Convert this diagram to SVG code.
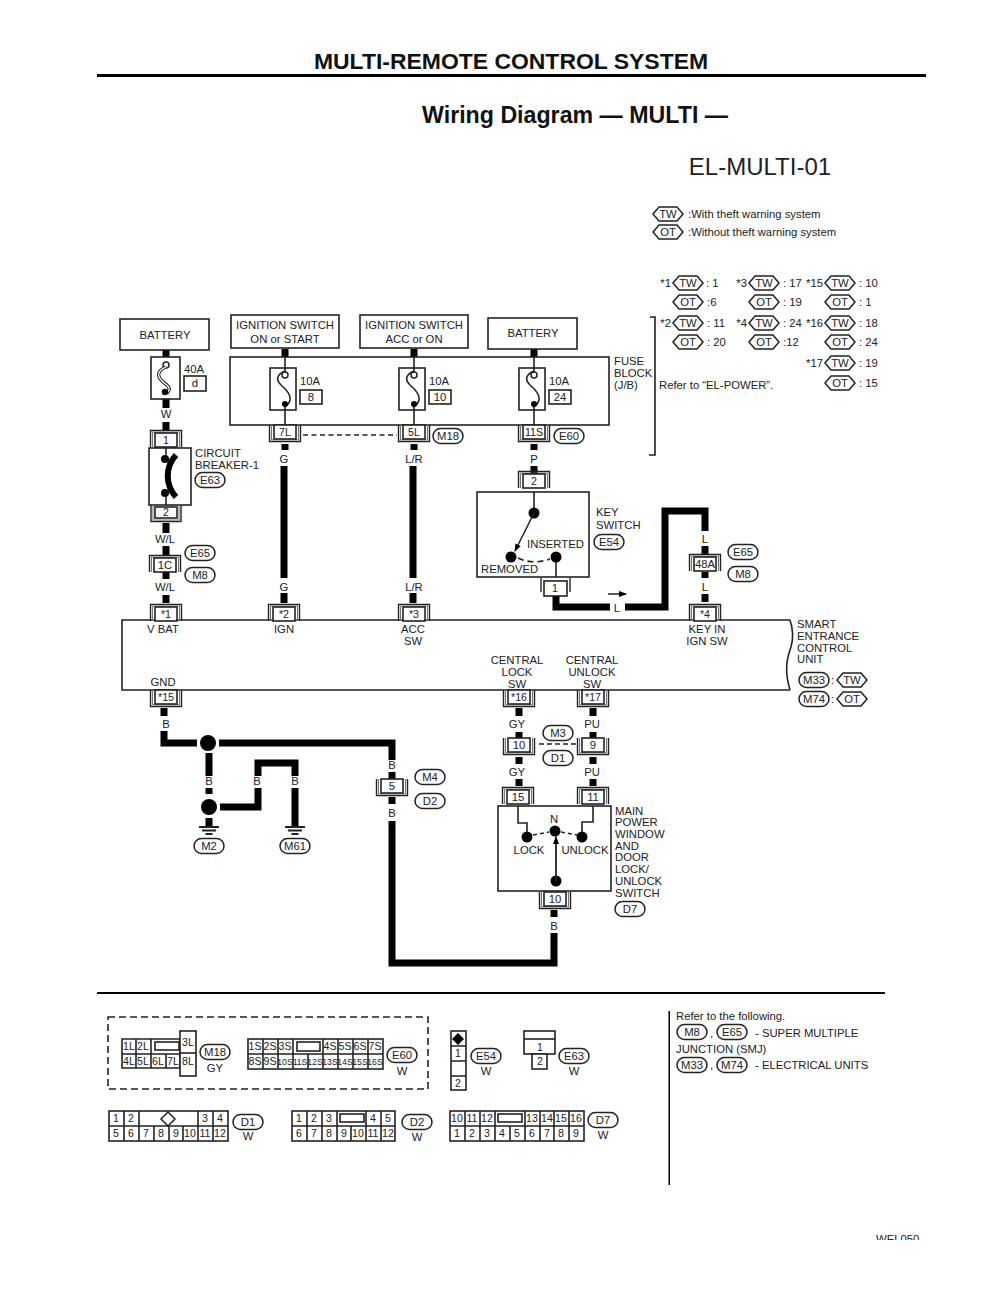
<svg xmlns="http://www.w3.org/2000/svg" width="1000" height="1294" viewBox="0 0 1000 1294">
<style>
text{font-family:"Liberation Sans",Arial,sans-serif;font-size:11.3px;fill:#222}
.m{text-anchor:middle}
.e{text-anchor:end}
.s{font-size:10.6px}
.xs{font-size:8.6px}
.h1{font-size:22.95px;font-weight:bold;fill:#111}
.h2{font-size:24px}
.h3{font-size:23.2px;font-weight:bold;fill:#111}
.b{fill:#fff;stroke:#222;stroke-width:1.6}
.n{fill:none;stroke:#222;stroke-width:1.4}
.g{fill:none;stroke:#777;stroke-width:1}
.w{fill:none;stroke:#000;stroke-width:7;stroke-linejoin:miter}
.f{fill:none;stroke:#222;stroke-width:1.6}
.d{fill:none;stroke:#222;stroke-width:1.6;stroke-dasharray:4 3}
.k{fill:#000}
.o{fill:#fff;stroke:#222;stroke-width:1.5}
</style>
<defs>
<g id="pt"><path class="n" d="M-15.5,7V-9.5H15.5V7"/><path class="g" d="M-13.5,7V-7.8H13.5V7"/><rect class="b" x="-11" y="-7" width="22" height="14"/></g>
<g id="pb"><path class="n" d="M-15.5,-7V9.5H15.5V-7"/><path class="g" d="M-13.5,-7V7.8H13.5V-7"/><rect class="b" x="-11" y="-7" width="22" height="14"/></g>
<rect id="ov" class="o" x="-15" y="-7.5" width="30" height="15" rx="7.5"/>
<polygon id="hx" class="o" points="-15,0 -9,-7 9,-7 15,0 9,7 -9,7"/>
<path id="fs" class="f" d="M1,-18C-8,-14 -8,-9 -3,-4C3,1 7,6 6,11C5,15 2,17 0,18"/>
<g id="gnd"><path class="f" style="stroke-width:2" d="M-10,0H10M-7,3.5H7M-3.5,7H3.5"/></g>
<marker id="ah" markerWidth="8" markerHeight="6" refX="7" refY="3" orient="auto" markerUnits="userSpaceOnUse"><path class="k" d="M0,0L8,3L0,6Z"/></marker>
</defs>

<g id="title">
<text class="h1 m" x="511" y="69">MULTI-REMOTE CONTROL SYSTEM</text>
<rect class="k" x="97" y="74" width="829" height="3"/>
<text class="h3 m" x="575" y="123">Wiring Diagram — MULTI —</text>
<text class="h2 m" x="760" y="175">EL-MULTI-01</text>
</g>

<g id="connectors">
<path class="w" d="M166,350V357M166,399V408M166,422V431M166,523V533M166,546V555M166,572V579M166,595V603"/>
<path class="w" d="M285,349V357M285,444V450M284,466V578M284,593V603"/>
<path class="w" d="M414,349V357M414,444V450M413,466V578M413,593V603"/>
<path class="w" d="M534,349V357M534,444V450M534,466V474"/>
<path class="w" d="M556,596V607H610M625,607H665V511H705V531M705,546V554M705,572V578M705,594V602"/>
<path class="w" d="M164,708V716M164,731V743H197M219,743H392V760M392,772V780M392,797V804M392,821V963H554V933M554,910V917"/>
<path class="w" d="M209,753V776M209,788V794M209,818V827"/>
<path class="w" d="M220,807H258V788M258,776V763H295V776M295,788V827"/>
<path class="w" d="M519,708V716M519,732V738M519,757V764M519,779V786M593,708V716M593,732V738M593,757V764M593,779V786"/>
<path class="f" d="M303,435H397" style="stroke-dasharray:5 3.5"/>
<path class="f" d="M539,744H577" style="stroke-dasharray:5 3"/>
<path class="f" d="M608,594H626" style="stroke-width:1.5" marker-end="url(#ah)"/>
</g>

<g id="wire-labels">
<text class="m" x="166" y="418">W</text>
<text class="m" x="165" y="543">W/L</text>
<text class="m" x="165" y="591">W/L</text>
<text class="m" x="284" y="463">G</text>
<text class="m" x="284" y="591">G</text>
<text class="m" x="414" y="463">L/R</text>
<text class="m" x="414" y="591">L/R</text>
<text class="m" x="534" y="463">P</text>
<text class="m" x="617" y="612">L</text>
<text class="m" x="705" y="543">L</text>
<text class="m" x="705" y="591">L</text>
<text class="m" x="166" y="728">B</text>
<text class="m" x="209" y="785">B</text>
<text class="m" x="257" y="785">B</text>
<text class="m" x="295" y="785">B</text>
<text class="m" x="392" y="769">B</text>
<text class="m" x="392" y="817">B</text>
<text class="m" x="517" y="728">GY</text>
<text class="m" x="517" y="776">GY</text>
<text class="m" x="592" y="728">PU</text>
<text class="m" x="592" y="776">PU</text>
<text class="m" x="554" y="930">B</text>
</g>

<g id="battery-left"><rect class="b" x="120" y="319" width="89" height="31"/><text class="m" x="165" y="339">BATTERY</text></g>
<g id="ignition-on"><rect class="b" x="231" y="315" width="108" height="33"/><text class="m" x="285" y="329">IGNITION SWITCH</text><text class="m" x="285" y="343">ON or START</text></g>
<g id="ignition-acc"><rect class="b" x="360" y="315" width="108" height="33"/><text class="m" x="414" y="329">IGNITION SWITCH</text><text class="m" x="414" y="343">ACC or ON</text></g>
<g id="battery-right"><rect class="b" x="488" y="318" width="89" height="31"/><text class="m" x="533" y="337">BATTERY</text></g>

<g id="fuse-40a">
<rect class="b" x="151" y="357" width="29" height="42"/>
<circle class="o" cx="166" cy="365" r="3"/>
<path fill="none" stroke="#333" stroke-width="3.5" d="M166,367C157,371 157,376 162,381C168,386 172,388 167,393"/>
<path fill="none" stroke="#fff" stroke-width="1.2" d="M166,367C157,371 157,376 162,381C168,386 172,388 167,393"/>
<circle class="k" cx="165" cy="392" r="3.2"/>
<text x="184" y="373">40A</text>
<rect class="b" x="184" y="376" width="22" height="15"/><text class="m" x="195" y="387">d</text>
</g>

<g id="fuse-block">
<rect class="f" x="230" y="357" width="379" height="68"/>
<path class="f" d="M285,357V368M285,410V425M414,357V368M414,410V425M534,357V368M534,410V425"/>
<rect class="b" x="270" y="368" width="26" height="42"/>
<rect class="b" x="399" y="368" width="26" height="42"/>
<rect class="b" x="519" y="368" width="26" height="42"/>
<path class="f" d="M285,368V372M285,404V410M414,368V372M414,404V410M534,368V372M534,404V410"/>
<use href="#fs" x="284" y="389"/><use href="#fs" x="413" y="389"/><use href="#fs" x="533" y="389"/>
<circle class="o" cx="285" cy="375" r="3"/><circle class="o" cx="414" cy="375" r="3"/><circle class="o" cx="534" cy="375" r="3"/>
<circle class="k" cx="285" cy="404" r="3"/><circle class="k" cx="414" cy="404" r="3"/><circle class="k" cx="534" cy="404" r="3"/>
<text x="300" y="385">10A</text><rect class="b" x="300" y="390" width="22" height="14"/><text class="m" x="311" y="401">8</text>
<text x="429" y="385">10A</text><rect class="b" x="429" y="390" width="22" height="14"/><text class="m" x="440" y="401">10</text>
<text x="549" y="385">10A</text><rect class="b" x="549" y="390" width="22" height="14"/><text class="m" x="560" y="401">24</text>
<text x="614" y="365">FUSE</text><text x="614" y="377">BLOCK</text><text x="614" y="389">(J/B)</text>
</g>

<g id="fuse-bracket">
<path class="f" d="M650,317H655V455H649"/>
<text x="659" y="389">Refer to “EL-POWER”.</text>
</g>

<g id="pins-fuse-block">
<use href="#pb" x="285" y="432"/><text class="m s" x="285" y="436">7L</text>
<use href="#pb" x="414" y="432"/><text class="m s" x="414" y="436">5L</text>
<use href="#ov" x="448" y="436"/><text class="m" x="448" y="440">M18</text>
<use href="#pb" x="534" y="432"/><text class="m s" x="534" y="436">11S</text>
<use href="#ov" x="569" y="436"/><text class="m" x="569" y="440">E60</text>
</g>

<g id="circuit-breaker">
<use href="#pt" x="166" y="440"/><text class="m s" x="166" y="444">1</text>
<rect class="b" x="149" y="448" width="42" height="57"/>
<path class="f" d="M166,448V458M166,493V505"/>
<circle class="k" cx="165" cy="459" r="4"/><circle class="k" cx="165" cy="493" r="4"/>
<path fill="none" stroke="#000" stroke-width="6" d="M176,455C165,467 165,485 176,497"/>
<path class="n" d="M151,505V521.500H181V505"/><path class="g" d="M153,505V520H179V505"/>
<rect class="b" x="155" y="507" width="22" height="11"/><text class="m s" x="166" y="516">2</text>
<text x="195" y="457">CIRCUIT</text><text x="195" y="469">BREAKER-1</text>
<use href="#ov" x="210" y="480"/><text class="m" x="210" y="484">E63</text>
</g>

<g id="joint-1c">
<use href="#pt" x="165" y="565"/><text class="m" x="165" y="569">1C</text>
<use href="#ov" x="200" y="553"/><text class="m" x="200" y="557">E65</text>
<use href="#ov" x="200" y="575"/><text class="m" x="200" y="579">M8</text>
</g>

<g id="key-switch">
<use href="#pt" x="534" y="481"/><text class="m s" x="534" y="485">2</text>
<rect class="b" x="477" y="492" width="112" height="85"/>
<path class="f" d="M534,492V513M556,557V577"/>
<circle class="k" cx="534" cy="513" r="5.500"/>
<path class="f" d="M534,513L515,551" marker-end="url(#ah)"/>
<circle class="k" cx="511" cy="557" r="5.500"/><circle class="k" cx="556" cy="557" r="5.500"/>
<path class="d" d="M518,558Q533,565 550,559" style="stroke-dasharray:6 4"/>
<text x="527" y="548">INSERTED</text>
<text x="481" y="573">REMOVED</text>
<path class="n" d="M541,578V592M570,578V592"/>
<rect class="b" x="544" y="581" width="23" height="15"/><text class="m s" x="555" y="592">1</text>
<text x="596" y="516">KEY</text><text x="596" y="529">SWITCH</text>
<use href="#ov" x="609" y="542"/><text class="m" x="609" y="546">E54</text>
</g>

<g id="joint-48a">
<use href="#pt" x="705" y="564"/><text class="m" x="705" y="568">48A</text>
<use href="#ov" x="743" y="552"/><text class="m" x="743" y="556">E65</text>
<use href="#ov" x="743" y="574"/><text class="m" x="743" y="578">M8</text>
</g>

<g id="smart-entrance-control-unit">
<path class="f" d="M790,620H122V690H790"/>
<path class="f" d="M790,620C794,632 793,640 791,647C787,658 784,670 790,690"/>
<use href="#pt" x="166" y="614"/><text class="m s" x="166" y="618">*1</text>
<use href="#pt" x="284" y="614"/><text class="m s" x="284" y="618">*2</text>
<use href="#pt" x="414" y="614"/><text class="m s" x="414" y="618">*3</text>
<use href="#pt" x="705" y="614"/><text class="m s" x="705" y="618">*4</text>
<use href="#pb" x="166" y="697"/><text class="m s" x="166" y="701">*15</text>
<use href="#pb" x="519" y="697"/><text class="m s" x="519" y="701">*16</text>
<use href="#pb" x="593" y="697"/><text class="m s" x="593" y="701">*17</text>
<text class="m" x="163" y="633">V BAT</text>
<text class="m" x="284" y="633">IGN</text>
<text class="m" x="413" y="633">ACC</text><text class="m" x="413" y="645">SW</text>
<text class="m" x="707" y="633">KEY IN</text><text class="m" x="707" y="645">IGN SW</text>
<text class="m" x="163" y="686">GND</text>
<text class="m" x="517" y="664">CENTRAL</text><text class="m" x="517" y="676">LOCK</text><text class="m" x="517" y="688">SW</text>
<text class="m" x="592" y="664">CENTRAL</text><text class="m" x="592" y="676">UNLOCK</text><text class="m" x="592" y="688">SW</text>
<text x="797" y="628">SMART</text><text x="797" y="640">ENTRANCE</text><text x="797" y="652">CONTROL</text><text x="797" y="663">UNIT</text>
<use href="#ov" x="814" y="680"/><text class="m" x="814" y="684">M33</text>
<text x="831" y="684">:</text>
<use href="#hx" x="852" y="680"/><text class="m" x="852" y="684">TW</text>
<use href="#ov" x="814" y="699"/><text class="m" x="814" y="703">M74</text>
<text x="831" y="703">:</text>
<use href="#hx" x="852" y="699"/><text class="m" x="852" y="703">OT</text>
</g>

<g id="ground-m2">
<circle class="k" cx="208" cy="743" r="8"/><circle class="k" cx="209" cy="807" r="8"/>
<use href="#gnd" x="209" y="827"/>
<use href="#ov" x="209" y="846"/><text class="m" x="209" y="850">M2</text>
</g>
<g id="ground-m61">
<use href="#gnd" x="295" y="827"/>
<use href="#ov" x="295" y="846"/><text class="m" x="295" y="850">M61</text>
</g>

<g id="joint-5">
<use href="#pb" x="392" y="786"/><text class="m" x="392" y="790">5</text>
<use href="#ov" x="430" y="777"/><text class="m" x="430" y="781">M4</text>
<use href="#ov" x="430" y="801"/><text class="m" x="430" y="805">D2</text>
</g>

<g id="joint-10-9">
<use href="#pb" x="519" y="745"/><text class="m" x="519" y="749">10</text>
<use href="#pb" x="593" y="745"/><text class="m" x="593" y="749">9</text>
<use href="#ov" x="558" y="733"/><text class="m" x="558" y="737">M3</text>
<use href="#ov" x="558" y="758"/><text class="m" x="558" y="762">D1</text>
</g>

<g id="main-power-window-switch">
<use href="#pt" x="518" y="797"/><text class="m" x="518" y="801">15</text>
<use href="#pt" x="593" y="797"/><text class="m" x="593" y="801">11</text>
<rect class="b" x="498" y="806" width="113" height="85"/>
<path class="f" d="M518,806V823H527V837M593,806V822H582V837"/>
<circle class="k" cx="527" cy="837" r="5.500"/><circle class="k" cx="555" cy="831" r="5.500"/><circle class="k" cx="582" cy="837" r="5.500"/><circle class="k" cx="556" cy="881" r="5.500"/>
<path class="d" d="M533,835L549,832M561,832L577,835" style="stroke-dasharray:4 3"/>
<path class="f" d="M556,881V837" style="stroke-width:1.800" marker-end="url(#ah)"/>
<text class="m" x="554" y="823">N</text>
<text class="m" x="529" y="854">LOCK</text>
<text class="m" x="585" y="854">UNLOCK</text>
<use href="#pb" x="555" y="899"/><text class="m" x="555" y="903">10</text>
<text x="615" y="815">MAIN</text><text x="615" y="826">POWER</text><text x="615" y="838">WINDOW</text><text x="615" y="850">AND</text><text x="615" y="861">DOOR</text><text x="615" y="873">LOCK/</text><text x="615" y="885">UNLOCK</text><text x="615" y="897">SWITCH</text>
<use href="#ov" x="630" y="909"/><text class="m" x="630" y="913">D7</text>
</g>

<g id="legend">
<use href="#hx" x="668" y="214"/><text class="m" x="668" y="218">TW</text><text x="688" y="218">:With theft warning system</text>
<use href="#hx" x="668" y="232"/><text class="m" x="668" y="236">OT</text><text x="688" y="236">:Without theft warning system</text>
</g>

<g id="pin-table">
<text class="e" x="671" y="287">*1</text><use href="#hx" x="688" y="283"/><text class="m" x="688" y="287">TW</text><text x="706" y="287">:  1</text>
<use href="#hx" x="688" y="302"/><text class="m" x="688" y="306">OT</text><text x="707" y="306">:6</text>
<text class="e" x="671" y="327">*2</text><use href="#hx" x="688" y="323"/><text class="m" x="688" y="327">TW</text><text x="707" y="327">: 11</text>
<use href="#hx" x="688" y="342"/><text class="m" x="688" y="346">OT</text><text x="707" y="346">: 20</text>
<text class="e" x="747" y="287">*3</text><use href="#hx" x="764" y="283"/><text class="m" x="764" y="287">TW</text><text x="783" y="287">: 17</text>
<use href="#hx" x="764" y="302"/><text class="m" x="764" y="306">OT</text><text x="783" y="306">: 19</text>
<text class="e" x="747" y="327">*4</text><use href="#hx" x="764" y="323"/><text class="m" x="764" y="327">TW</text><text x="783" y="327">: 24</text>
<use href="#hx" x="764" y="342"/><text class="m" x="764" y="346">OT</text><text x="783" y="346">:12</text>
<text class="e" x="823" y="287">*15</text><use href="#hx" x="840" y="283"/><text class="m" x="840" y="287">TW</text><text x="859" y="287">: 10</text>
<use href="#hx" x="840" y="302"/><text class="m" x="840" y="306">OT</text><text x="859" y="306">:  1</text>
<text class="e" x="823" y="327">*16</text><use href="#hx" x="840" y="323"/><text class="m" x="840" y="327">TW</text><text x="859" y="327">: 18</text>
<use href="#hx" x="840" y="342"/><text class="m" x="840" y="346">OT</text><text x="859" y="346">: 24</text>
<text class="e" x="823" y="367">*17</text><use href="#hx" x="840" y="363"/><text class="m" x="840" y="367">TW</text><text x="859" y="367">: 19</text>
<use href="#hx" x="840" y="383"/><text class="m" x="840" y="387">OT</text><text x="859" y="387">: 15</text>
</g>

<g id="dividers">
<rect class="k" x="97" y="992" width="788" height="2"/>
<rect class="k" x="668.500" y="1011" width="1.500" height="174"/>
</g>

<g id="connector-views">
<rect class="f" style="stroke-dasharray:7 4" x="108" y="1017" width="320" height="72"/>

<g id="view-m18">
<path class="b" d="M122,1039H180V1068H122Z"/>
<path class="f" d="M122,1054H180M136,1039V1068M151,1039V1068M166,1054V1068"/>
<rect class="b" x="155" y="1042" width="24" height="8"/>
<rect class="b" x="180" y="1031" width="16" height="45"/><path class="f" d="M180,1053H196"/>
<text class="m s" x="129" y="1050">1L</text><text class="m s" x="143" y="1050">2L</text><text class="m s" x="188" y="1046">3L</text>
<text class="m s" x="129" y="1065">4L</text><text class="m s" x="143" y="1065">5L</text><text class="m s" x="158" y="1065">6L</text><text class="m s" x="173" y="1065">7L</text><text class="m s" x="188" y="1065">8L</text>
<use href="#ov" x="215" y="1052"/><text class="m" x="215" y="1056">M18</text><text class="m" x="215" y="1072">GY</text>
</g>

<g id="view-e60">
<rect class="b" x="248" y="1039" width="135" height="30"/>
<path class="f" d="M248,1054H383M263,1039V1069M278,1039V1069M293,1039V1069M323,1039V1069M338,1039V1069M353,1039V1069M368,1039V1069M308,1054V1069"/>
<rect class="b" x="297" y="1042" width="23" height="9"/>
<text class="m s" x="255" y="1050">1S</text><text class="m s" x="270" y="1050">2S</text><text class="m s" x="285" y="1050">3S</text><text class="m s" x="330" y="1050">4S</text><text class="m s" x="345" y="1050">5S</text><text class="m s" x="360" y="1050">6S</text><text class="m s" x="375" y="1050">7S</text>
<text class="m s" x="255" y="1065">8S</text><text class="m s" x="270" y="1065">9S</text><text class="m xs" x="285" y="1065">10S</text><text class="m xs" x="300" y="1065">11S</text><text class="m xs" x="315" y="1065">12S</text><text class="m xs" x="330" y="1065">13S</text><text class="m xs" x="345" y="1065">14S</text><text class="m xs" x="360" y="1065">15S</text><text class="m xs" x="375" y="1065">16S</text>
<use href="#ov" x="402" y="1055"/><text class="m" x="402" y="1059">E60</text><text class="m" x="402" y="1075">W</text>
</g>

<g id="view-d1">
<rect class="b" x="109" y="1111" width="119" height="30"/>
<path class="f" d="M109,1126H228M124,1111V1141M139,1111V1141M198,1111V1141M213,1111V1141M154,1126V1141M169,1126V1141M183,1126V1141"/>
<polygon class="o" points="168,1112 175,1119 168,1126 161,1119"/>
<text class="m s" x="116" y="1122">1</text><text class="m s" x="131" y="1122">2</text><text class="m s" x="205" y="1122">3</text><text class="m s" x="220" y="1122">4</text>
<text class="m s" x="116" y="1137">5</text><text class="m s" x="131" y="1137">6</text><text class="m s" x="146" y="1137">7</text><text class="m s" x="161" y="1137">8</text><text class="m s" x="176" y="1137">9</text><text class="m s" x="190" y="1137">10</text><text class="m s" x="205" y="1137">11</text><text class="m s" x="220" y="1137">12</text>
<use href="#ov" x="248" y="1122"/><text class="m" x="248" y="1126">D1</text><text class="m" x="248" y="1140">W</text>
</g>

<g id="view-d2">
<rect class="b" x="292" y="1111" width="103" height="30"/>
<path class="f" d="M292,1126H395M307,1111V1141M322,1111V1141M337,1111V1141M366,1111V1141M381,1111V1141M351,1126V1141"/>
<rect class="b" x="340" y="1114" width="24" height="8"/>
<text class="m s" x="299" y="1122">1</text><text class="m s" x="314" y="1122">2</text><text class="m s" x="329" y="1122">3</text><text class="m s" x="373" y="1122">4</text><text class="m s" x="388" y="1122">5</text>
<text class="m s" x="299" y="1137">6</text><text class="m s" x="314" y="1137">7</text><text class="m s" x="329" y="1137">8</text><text class="m s" x="344" y="1137">9</text><text class="m s" x="358" y="1137">10</text><text class="m s" x="373" y="1137">11</text><text class="m s" x="388" y="1137">12</text>
<use href="#ov" x="417" y="1122"/><text class="m" x="417" y="1126">D2</text><text class="m" x="417" y="1141">W</text>
</g>

<g id="view-e54">
<rect class="b" x="451" y="1031" width="15" height="59"/>
<path class="f" d="M451,1046H466M451,1061H466M451,1076H466"/>
<polygon class="k" points="458,1033 464,1039 458,1045 452,1039"/>
<text class="m s" x="458" y="1057">1</text><text class="m s" x="458" y="1087">2</text>
<use href="#ov" x="486" y="1056"/><text class="m" x="486" y="1060">E54</text><text class="m" x="486" y="1075">W</text>
</g>

<g id="view-e63">
<rect class="b" x="524" y="1031" width="31" height="23"/><path class="f" d="M524,1039H555"/>
<rect class="b" x="532" y="1054" width="15" height="15"/>
<text class="m s" x="540" y="1051">1</text><text class="m s" x="540" y="1065">2</text>
<use href="#ov" x="574" y="1056"/><text class="m" x="574" y="1060">E63</text><text class="m" x="574" y="1075">W</text>
</g>

<g id="view-d7">
<rect class="b" x="450" y="1111" width="134" height="30"/>
<path class="f" d="M450,1126H584M465,1111V1141M480,1111V1141M495,1111V1141M525,1111V1141M540,1111V1141M554,1111V1141M569,1111V1141M510,1126V1141"/>
<rect class="b" x="498" y="1114" width="24" height="8"/>
<text class="m s" x="457" y="1122">10</text><text class="m s" x="472" y="1122">11</text><text class="m s" x="487" y="1122">12</text><text class="m s" x="532" y="1122">13</text><text class="m s" x="547" y="1122">14</text><text class="m s" x="561" y="1122">15</text><text class="m s" x="576" y="1122">16</text>
<text class="m s" x="457" y="1137">1</text><text class="m s" x="472" y="1137">2</text><text class="m s" x="487" y="1137">3</text><text class="m s" x="502" y="1137">4</text><text class="m s" x="517" y="1137">5</text><text class="m s" x="532" y="1137">6</text><text class="m s" x="547" y="1137">7</text><text class="m s" x="561" y="1137">8</text><text class="m s" x="576" y="1137">9</text>
<use href="#ov" x="603" y="1120"/><text class="m" x="603" y="1124">D7</text><text class="m" x="603" y="1139">W</text>
</g>
</g>

<g id="refer-note">
<text x="676" y="1020">Refer to the following.</text>
<use href="#ov" x="692" y="1032"/><text class="m" x="692" y="1036">M8</text><text x="710" y="1037">,</text>
<use href="#ov" x="732" y="1032"/><text class="m" x="732" y="1036">E65</text><text x="755" y="1037">- SUPER MULTIPLE</text>
<text x="676" y="1053">JUNCTION (SMJ)</text>
<use href="#ov" x="692" y="1065"/><text class="m" x="692" y="1069">M33</text><text x="710" y="1069">,</text>
<use href="#ov" x="732" y="1065"/><text class="m" x="732" y="1069">M74</text><text x="755" y="1069">- ELECTRICAL UNITS</text>
</g>

<g id="page-code">
<text x="876" y="1243">WEL050</text>
<rect x="860" y="1240" width="80" height="12" fill="#fff"/>
</g>
</svg>
